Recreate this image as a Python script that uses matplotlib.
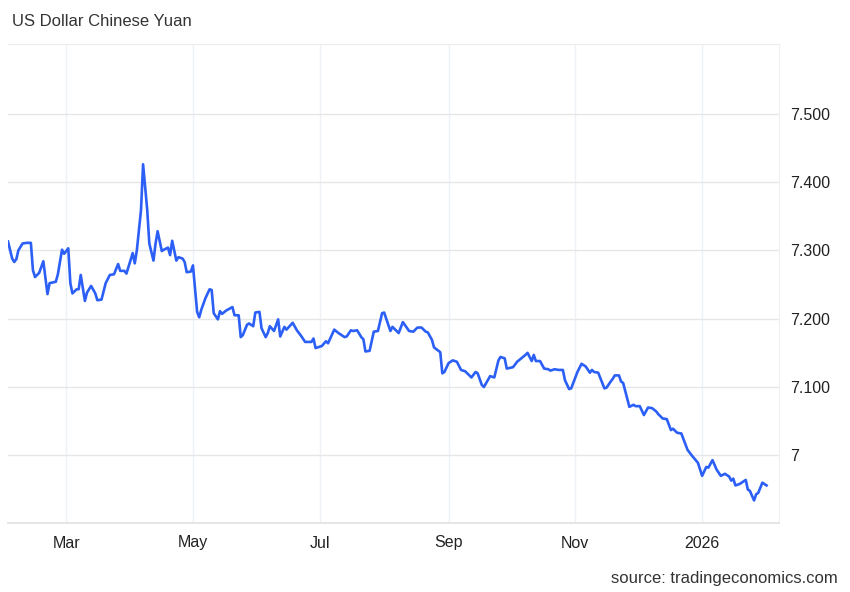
import pandas as pd
import matplotlib.pyplot as plt
import matplotlib.dates as mdates

plt.rcParams['font.family'] = ['Liberation Sans', 'DejaVu Sans']

# USD/CNY
dates = [
    "2025-02-01", "2025-02-03", "2025-02-04", "2025-02-05", "2025-02-06", "2025-02-08",
    "2025-02-10", "2025-02-12", "2025-02-13", "2025-02-14", "2025-02-16", "2025-02-18",
    "2025-02-20", "2025-02-21", "2025-02-24", "2025-02-25", "2025-02-27", "2025-02-28",
    "2025-03-02", "2025-03-03", "2025-03-04", "2025-03-06", "2025-03-07", "2025-03-08",
    "2025-03-10", "2025-03-11", "2025-03-13", "2025-03-15", "2025-03-16", "2025-03-18",
    "2025-03-20", "2025-03-22", "2025-03-24", "2025-03-26", "2025-03-27", "2025-03-29",
    "2025-03-30", "2025-04-02", "2025-04-03", "2025-04-04", "2025-04-06", "2025-04-07",
    "2025-04-09", "2025-04-10", "2025-04-12", "2025-04-13", "2025-04-14", "2025-04-16",
    "2025-04-17", "2025-04-19", "2025-04-20", "2025-04-21", "2025-04-23", "2025-04-24",
    "2025-04-26", "2025-04-27", "2025-04-28", "2025-04-30", "2025-05-01", "2025-05-03",
    "2025-05-04", "2025-05-05", "2025-05-07", "2025-05-09", "2025-05-10", "2025-05-11",
    "2025-05-13", "2025-05-14", "2025-05-15", "2025-05-17", "2025-05-20", "2025-05-21",
    "2025-05-23", "2025-05-24", "2025-05-25", "2025-05-27", "2025-05-28", "2025-05-30",
    "2025-05-31", "2025-06-02", "2025-06-03", "2025-06-05", "2025-06-06", "2025-06-07",
    "2025-06-09", "2025-06-11", "2025-06-12", "2025-06-14", "2025-06-15", "2025-06-18",
    "2025-06-20", "2025-06-22", "2025-06-24", "2025-06-27", "2025-06-28", "2025-06-29",
    "2025-07-02", "2025-07-04", "2025-07-05", "2025-07-08", "2025-07-10", "2025-07-13",
    "2025-07-14", "2025-07-16", "2025-07-17", "2025-07-19", "2025-07-21", "2025-07-22",
    "2025-07-23", "2025-07-25", "2025-07-27", "2025-07-29", "2025-07-31", "2025-08-01",
    "2025-08-04", "2025-08-05", "2025-08-08", "2025-08-10", "2025-08-13", "2025-08-15",
    "2025-08-17", "2025-08-19", "2025-08-21", "2025-08-22", "2025-08-24", "2025-08-25",
    "2025-08-28", "2025-08-29", "2025-08-30", "2025-09-01", "2025-09-03", "2025-09-05",
    "2025-09-07", "2025-09-09", "2025-09-12", "2025-09-14", "2025-09-15", "2025-09-17",
    "2025-09-18", "2025-09-21", "2025-09-23", "2025-09-25", "2025-09-26", "2025-09-28",
    "2025-09-29", "2025-10-02", "2025-10-04", "2025-10-06", "2025-10-08", "2025-10-09",
    "2025-10-11", "2025-10-12", "2025-10-13", "2025-10-15", "2025-10-17", "2025-10-19",
    "2025-10-20", "2025-10-22", "2025-10-24", "2025-10-26", "2025-10-27", "2025-10-29",
    "2025-10-30", "2025-11-02", "2025-11-04", "2025-11-06", "2025-11-08", "2025-11-09",
    "2025-11-10", "2025-11-12", "2025-11-15", "2025-11-16", "2025-11-18", "2025-11-19",
    "2025-11-20", "2025-11-22", "2025-11-23", "2025-11-24", "2025-11-26", "2025-11-27",
    "2025-11-29", "2025-11-30", "2025-12-02", "2025-12-04", "2025-12-06", "2025-12-08",
    "2025-12-10", "2025-12-11", "2025-12-13", "2025-12-15", "2025-12-17", "2025-12-18",
    "2025-12-20", "2025-12-22", "2025-12-25", "2025-12-27", "2025-12-30", "2026-01-01",
    "2026-01-03", "2026-01-04", "2026-01-06", "2026-01-08", "2026-01-10", "2026-01-12",
    "2026-01-14", "2026-01-15", "2026-01-16", "2026-01-17", "2026-01-19", "2026-01-22",
    "2026-01-23", "2026-01-24", "2026-01-26", "2026-01-27", "2026-01-28", "2026-01-30",
    "2026-02-01",
]
rates = [
    7.313, 7.288, 7.283, 7.287, 7.300, 7.310,
    7.311, 7.311, 7.271, 7.261, 7.267, 7.284,
    7.236, 7.252, 7.254, 7.265, 7.301, 7.295,
    7.303, 7.252, 7.237, 7.243, 7.243, 7.264,
    7.226, 7.238, 7.248, 7.237, 7.227, 7.228,
    7.252, 7.264, 7.265, 7.280, 7.270, 7.270,
    7.266, 7.296, 7.281, 7.300, 7.359, 7.426,
    7.359, 7.310, 7.285, 7.310, 7.328, 7.299,
    7.301, 7.304, 7.293, 7.314, 7.285, 7.290,
    7.288, 7.283, 7.268, 7.269, 7.278, 7.210,
    7.202, 7.213, 7.230, 7.243, 7.242, 7.208,
    7.199, 7.211, 7.207, 7.212, 7.217, 7.205,
    7.205, 7.173, 7.176, 7.191, 7.193, 7.189,
    7.209, 7.210, 7.186, 7.173, 7.179, 7.189,
    7.182, 7.199, 7.174, 7.188, 7.184, 7.194,
    7.183, 7.175, 7.166, 7.166, 7.171, 7.157,
    7.160, 7.167, 7.164, 7.184, 7.179, 7.173,
    7.174, 7.183, 7.182, 7.183, 7.173, 7.170,
    7.152, 7.153, 7.181, 7.182, 7.208, 7.209,
    7.182, 7.188, 7.179, 7.195, 7.182, 7.181,
    7.187, 7.187, 7.181, 7.180, 7.169, 7.158,
    7.151, 7.120, 7.122, 7.135, 7.139, 7.137,
    7.125, 7.123, 7.114, 7.122, 7.120, 7.103,
    7.100, 7.116, 7.114, 7.139, 7.144, 7.142,
    7.127, 7.129, 7.137, 7.142, 7.147, 7.150,
    7.138, 7.147, 7.138, 7.138, 7.127, 7.126,
    7.124, 7.126, 7.125, 7.125, 7.110, 7.097,
    7.098, 7.122, 7.134, 7.130, 7.121, 7.125,
    7.122, 7.121, 7.098, 7.099, 7.108, 7.112,
    7.117, 7.117, 7.108, 7.106, 7.083, 7.071,
    7.074, 7.072, 7.072, 7.059, 7.070, 7.069,
    7.064, 7.060, 7.054, 7.053, 7.037, 7.039,
    7.033, 7.032, 7.008, 7.000, 6.989, 6.970,
    6.983, 6.982, 6.993, 6.979, 6.970, 6.973,
    6.969, 6.963, 6.966, 6.956, 6.958, 6.964,
    6.950, 6.948, 6.934, 6.943, 6.945, 6.960,
    6.956,
]

month_ticks = ["2025-03-01", "2025-05-01", "2025-07-01", "2025-09-01", "2025-11-01", "2026-01-01"]
month_labels = ["Mar", "May", "Jul", "Sep", "Nov", "2026"]
y_ticks = [7.0, 7.1, 7.2, 7.3, 7.4, 7.5]
y_labels = ["7", "7.100", "7.200", "7.300", "7.400", "7.500"]

x = pd.to_datetime(dates)

fig = plt.figure(figsize=(8.5, 5.92), dpi=100)
ax = fig.add_axes([8 / 850, 69 / 592, 771 / 850, 479 / 592])

ax.plot(x, rates, color="#2b5ff5", lw=1.9, solid_joinstyle="round")

ax.set_xlim(pd.Timestamp("2025-02-01"), pd.Timestamp("2026-02-07"))
ax.set_ylim(6.901, 7.602)

ax.set_xticks(pd.to_datetime(month_ticks))
ax.set_xticklabels(month_labels)
ax.set_yticks(y_ticks)
ax.set_yticklabels(y_labels)

ax.yaxis.tick_right()
ax.tick_params(axis="both", length=0, labelsize=11.5, colors="#222222")
ax.tick_params(axis="y", pad=8)
ax.tick_params(axis="x", pad=9)

ax.grid(axis="y", color="#e6e6e6", lw=1)
ax.grid(axis="x", color="#eef2f6", lw=1)
ax.spines["left"].set_visible(False)
ax.spines["top"].set_color("#ececec")
ax.spines["bottom"].set_color("#e0e0e0")
ax.spines["right"].set_color("#eef0f2")
ax.spines["bottom"].set_linewidth(1.2)

fig.text(12 / 850, 1 - 22 / 592, "US Dollar Chinese Yuan", fontsize=12,
         color="#333333", va="center", ha="left")
fig.text(838 / 850, 1 - 578 / 592, "source: tradingeconomics.com", fontsize=12,
         color="#333333", va="center", ha="right")

fig.savefig("out.png", dpi=100)
